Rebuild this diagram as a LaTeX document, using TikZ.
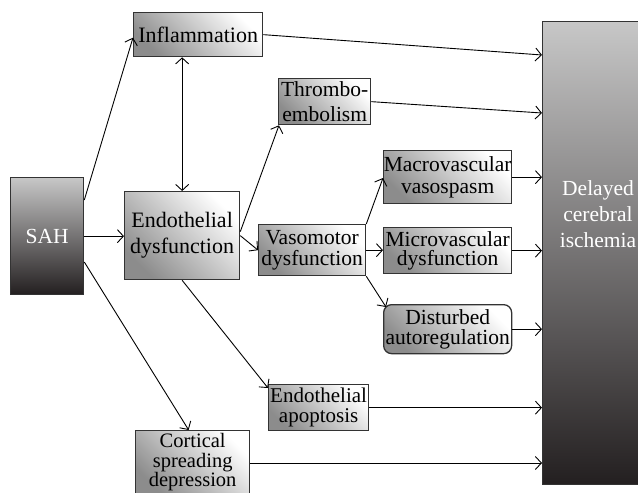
\documentclass[tikz,border=0pt]{standalone}
\usepackage{fontspec}
\setmainfont{Liberation Serif}
\usetikzlibrary{arrows.meta,calc}
\definecolor{edge}{HTML}{333333}
\definecolor{darkend}{HTML}{231F20}
\tikzset{
  box/.style={draw=edge, line width=1.3pt, shading=axis, top color=white, bottom color=black!45,
    shading angle=-45, anchor=north west, inner sep=0pt, align=center,
    font=\fontsize{21.5}{21}\selectfont},
  conn/.style={line width=0.9pt, -{Straight Barb[length=6pt,width=13pt,line width=0.9pt]}},
  biconn/.style={line width=0.9pt, {Straight Barb[length=6pt,width=13pt,line width=0.9pt]}-{Straight Barb[length=6pt,width=13pt,line width=0.9pt]}},
}
\begin{document}
\begin{tikzpicture}[x=1pt,y=-1pt]
\path[use as bounding box] (0,0) rectangle (638,493);
\fill[white] (0,0) rectangle (638,493);
\begin{scope}
\clip (0,0) rectangle (638,493);
% big boxes
\node[draw=edge, line width=1.3pt, shading=axis, top color=black!22, bottom color=darkend,
  anchor=north west, inner sep=0pt, minimum width=73pt, minimum height=117pt,
  text=white, font=\fontsize{21.5}{21}\selectfont] (sah) at (10,177) {SAH};
\node[draw=edge, line width=1.3pt, shading=axis, top color=black!22, bottom color=darkend,
  anchor=north west, inner sep=0pt, minimum width=125pt, minimum height=463pt] (dci) at (542,21) {};
\node[text=white, align=center, inner sep=0pt,
  font=\fontsize{21.5}{26}\selectfont] (dcitext) at (598,214) {Delayed\\cerebral\\ischemia};
% small boxes
\node[box, minimum width=129pt, minimum height=44pt, font=\fontsize{22}{21}\selectfont] (infl) at (133,12) {Inflammation};
\node[box, minimum width=115pt, minimum height=88pt, font=\fontsize{22}{26}\selectfont] (ed) at (124,191) {Endothelial\\dysfunction};
\node[box, minimum width=92pt, minimum height=46pt, font=\fontsize{21.5}{25}\selectfont] (thr) at (278,78) {Thrombo-\\embolism};
\node[box, minimum width=107pt, minimum height=51pt] (vaso) at (258,224) {Vasomotor\\dysfunction};
\node[box, minimum width=128pt, minimum height=53pt, font=\fontsize{21.5}{22}\selectfont] (macro) at (383,150) {Macrovascular\\vasospasm};
\node[box, minimum width=128pt, minimum height=46pt, font=\fontsize{21.5}{19.5}\selectfont] (micro) at (383,227) {Microvascular\\dysfunction};
\node[box, rounded corners=8pt, minimum width=128pt, minimum height=49pt, font=\fontsize{21.5}{20}\selectfont] (dist) at (383,304) {Disturbed\\autoregulation};
\node[box, minimum width=100pt, minimum height=46pt, font=\fontsize{21}{20}\selectfont] (apo) at (268,384) {Endothelial\\apoptosis};
\node[box, minimum width=114pt, minimum height=63.5pt, font=\fontsize{20.5}{19.5}\selectfont] (cort) at (135,430) {Cortical\\spreading\\depression};
% connectors
\draw[conn] ([yshift=-23pt]sah.north east) -- ([yshift=-3pt]infl.west);
\draw[conn] (sah.east) -- (sah.east -| ed.west);
\draw[conn] ([yshift=-85pt]sah.north east) -- ([xshift=-4pt]cort.north);
\draw[biconn] (ed.north |- infl.south) -- (ed.north);
\draw[conn] (infl.east) -- ([yshift=-34pt]dci.north west);
\draw[conn] ([yshift=4pt]ed.east) -- ([xshift=1pt]thr.south west);
\draw[conn] (ed.east) -- (vaso.west);
\draw[conn] (ed.south) -- ([yshift=-4pt]apo.north west);
\draw[conn] (thr.east) -- ([yshift=-92pt]dci.north west);
\draw[conn] (vaso.north east) -- ([yshift=-28pt]macro.north west);
\draw[conn] (vaso.east) -- (vaso.east -| micro.west);
\draw[conn] (vaso.south east) -- ([xshift=3pt,yshift=-3pt]dist.north west);
\draw[conn] (macro.east) -- (macro.east -| dci.west);
\draw[conn] (micro.east) -- (micro.east -| dci.west);
\draw[conn] (dist.east) -- (dist.east -| dci.west);
\draw[conn] (apo.east) -- (apo.east -| dci.west);
\draw[conn] ([yshift=-33pt]cort.north east) -- ([yshift=-33pt]cort.north east -| dci.west);
\end{scope}
\end{tikzpicture}
\end{document}
